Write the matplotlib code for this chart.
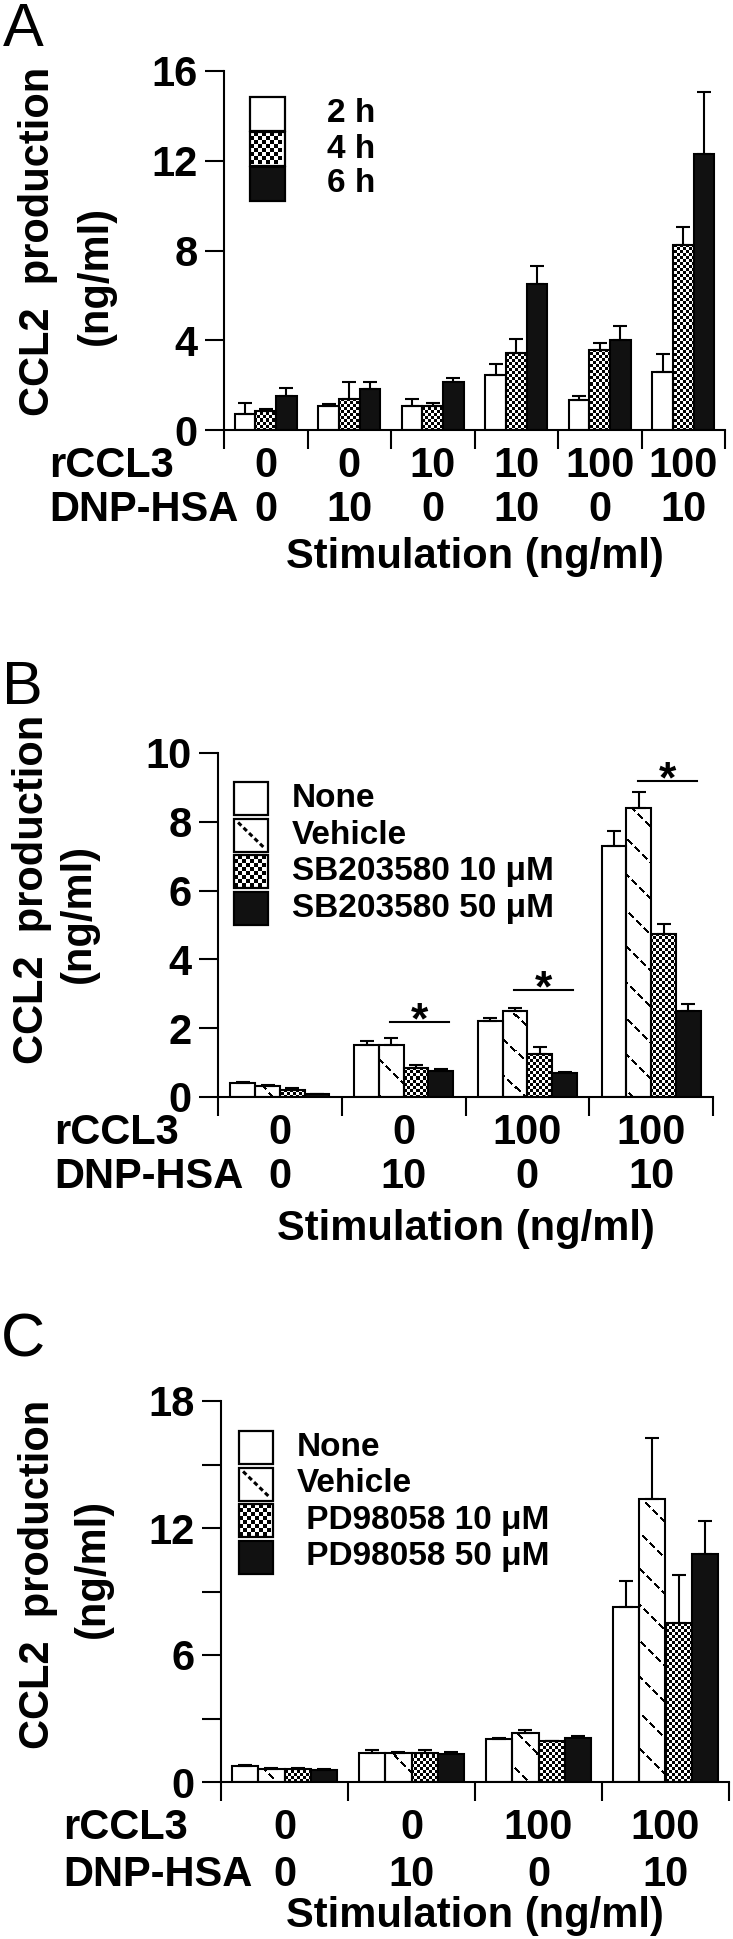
import numpy as np
import matplotlib
matplotlib.use("Agg")
import matplotlib.pyplot as plt
from matplotlib.patches import Rectangle
from matplotlib.lines import Line2D
from matplotlib.transforms import Affine2D

plt.rcParams['font.family'] = ['Liberation Sans', 'DejaVu Sans']

FIG_W, FIG_H = 733, 1939

# ---- data (ng/ml) ----
# panel A: time course
a_rccl3 = ['0', '0', '10', '10', '100', '100']
a_dnp = ['0', '10', '0', '10', '0', '10']
a_labels = ['2 h', '4 h', '6 h']
a_2h = [0.72, 1.05, 1.05, 2.45, 1.35, 2.6]
a_2h_err = [0.5, 0.12, 0.35, 0.48, 0.15, 0.8]
a_4h = [0.85, 1.36, 1.05, 3.43, 3.57, 8.25]
a_4h_err = [0.08, 0.8, 0.15, 0.62, 0.3, 0.8]
a_6h = [1.52, 1.84, 2.15, 6.5, 4.03, 12.3]
a_6h_err = [0.35, 0.3, 0.15, 0.8, 0.62, 2.75]

# panel B: SB203580
b_rccl3 = ['0', '0', '100', '100']
b_dnp = ['0', '10', '0', '10']
b_labels = ['None', 'Vehicle', 'SB203580 10 \u03bcM', 'SB203580 50 \u03bcM']
b_none = [0.4, 1.52, 2.2, 7.3]
b_none_err = [0.03, 0.1, 0.1, 0.42]
b_vehicle = [0.32, 1.5, 2.5, 8.4]
b_vehicle_err = [0.03, 0.22, 0.1, 0.48]
b_sb10 = [0.2, 0.85, 1.25, 4.73]
b_sb10_err = [0.05, 0.08, 0.2, 0.3]
b_sb50 = [0.08, 0.75, 0.7, 2.5]
b_sb50_err = [0.02, 0.07, 0.03, 0.2]
b_sig_groups = [1, 2, 3]
b_sig_y = [2.19, 3.12, 9.2]

# panel C: PD98058
c_rccl3 = ['0', '0', '100', '100']
c_dnp = ['0', '10', '0', '10']
c_labels = ['None', 'Vehicle', ' PD98058 10 \u03bcM', ' PD98058 50 \u03bcM']
c_none = [0.74, 1.39, 2.03, 8.25]
c_none_err = [0.05, 0.12, 0.05, 1.25]
c_vehicle = [0.6, 1.39, 2.32, 13.35]
c_vehicle_err = [0.08, 0.03, 0.15, 2.9]
c_pd10 = [0.6, 1.39, 1.92, 7.5]
c_pd10_err = [0.08, 0.12, 0.03, 2.3]
c_pd50 = [0.58, 1.3, 2.07, 10.75]
c_pd50_err = [0.03, 0.13, 0.1, 1.6]

# pixel coords measured from the top-left corner of the figure
PX = Affine2D().scale(1, -1).translate(0, FIG_H)


def fill_pattern(ax, bars, kind):
    # pixel pattern image clipped to each bar
    pos = ax.get_position()
    w = int(round(pos.width * FIG_W))
    h = int(round(pos.height * FIG_H))
    ii, jj = np.mgrid[0:h, 0:w]
    if kind == 'checker':
        dark = ((ii // 3) + (jj // 3)) % 2 == 0
    else:
        dark = (((ii - jj) % 36) < 3) & (((ii + jj) // 5) % 3 != 2)
    img = np.where(dark, 0.0, 1.0)
    xl, yl = ax.get_xlim(), ax.get_ylim()
    for b in bars:
        im = ax.imshow(img, cmap='gray', vmin=0, vmax=1,
                       extent=(xl[0], xl[1], yl[0], yl[1]), origin='upper',
                       aspect='auto', interpolation='nearest', zorder=1.5)
        im.set_clip_path(b)
    ax.set_xlim(xl)
    ax.set_ylim(yl)


def draw_key(fig, labels, kinds, x, y, pitch, bw, bh, tx):
    # hand made legend, boxes + text, in figure pixels
    for k, (lab, kind) in enumerate(zip(labels, kinds)):
        y0 = y + k * pitch
        face = '#111111' if kind == 'solid' else 'white'
        fig.add_artist(Rectangle((x, y0), bw, bh, facecolor=face,
                                 edgecolor='none', transform=PX))
        if kind == 'checker':
            c = 4
            for i in range(int(bw // c)):
                for j in range(int(bh // c)):
                    if (i + j) % 2:
                        fig.add_artist(Rectangle((x + i * c, y0 + j * c), c, c,
                                                 facecolor='black',
                                                 edgecolor='none', transform=PX))
        elif kind == 'hatch':
            fig.add_artist(Line2D([x + 0.12 * bw, x + 0.88 * bw],
                                  [y0 + 0.12 * bh, y0 + 0.88 * bh],
                                  color='black', lw=2.2, ls=(0, (1.5, 1)),
                                  transform=PX))
        fig.add_artist(Rectangle((x, y0), bw, bh, facecolor='none',
                                 edgecolor='black', lw=1.6, transform=PX))
        fig.text(tx, y0 + bh / 2, lab, transform=PX, ha='left', va='center',
                 fontsize=24, fontweight='bold')


def make_panel(fig, px, letter, series, errs, kinds, width, ymax, yticks,
               yticklabels, rccl3, dnp, rows, ylab, letter_xy, row_x):
    left, right, ytop, ybot = px
    ax = fig.add_axes([left / FIG_W, 1 - ybot / FIG_H,
                       (right - left) / FIG_W, (ybot - ytop) / FIG_H])
    n = len(rccl3)
    ns = len(series)
    x = np.arange(n)
    ax.set_xlim(-0.5, n - 0.5)
    ax.set_ylim(0, ymax)
    for k, (vals, err, kind) in enumerate(zip(series, errs, kinds)):
        xs = x + (k - (ns - 1) / 2) * width
        face = {'open': 'white', 'solid': '#111111'}.get(kind, 'none')
        bars = ax.bar(xs, vals, width, facecolor=face, edgecolor='black',
                      linewidth=1.5, zorder=2)
        if kind in ('checker', 'hatch'):
            fill_pattern(ax, bars.patches, kind)
        ax.errorbar(xs, vals, yerr=[np.zeros(n), err], fmt='none', ecolor='black',
                    elinewidth=1.5, capsize=5, capthick=1.5, zorder=3)

    for s in ['top', 'right']:
        ax.spines[s].set_visible(False)
    for s in ['left', 'bottom']:
        ax.spines[s].set_linewidth(1.5)
    ax.set_yticks(yticks)
    ax.set_yticklabels(yticklabels, fontsize=30, fontweight='bold')
    ax.set_xticks(np.arange(n + 1) - 0.5)
    ax.set_xticklabels([])
    ax.tick_params(axis='y', direction='out', length=14, width=1.5, pad=5)
    ax.tick_params(axis='x', direction='out', length=14, width=1.5)

    # stimulation rows under the axis
    r1, r2, r3 = rows
    for k in range(n):
        ax.annotate(rccl3[k], xy=(x[k], 0), xycoords=('data', 'axes fraction'),
                    xytext=(0, -r1), textcoords='offset pixels', ha='center',
                    va='center', fontsize=30, fontweight='bold')
        ax.annotate(dnp[k], xy=(x[k], 0), xycoords=('data', 'axes fraction'),
                    xytext=(0, -r2), textcoords='offset pixels', ha='center',
                    va='center', fontsize=30, fontweight='bold')
    fig.text(row_x, ybot + r1, 'rCCL3', transform=PX, ha='left', va='center',
             fontsize=30, fontweight='bold')
    fig.text(row_x, ybot + r2, 'DNP-HSA', transform=PX, ha='left', va='center',
             fontsize=30, fontweight='bold')
    ax.annotate('Stimulation (ng/ml)', xy=(0.5, 0), xycoords='axes fraction',
                xytext=(0, -r3), textcoords='offset pixels', ha='center',
                va='center', fontsize=30, fontweight='bold')

    # y label (two lines)
    fig.text(ylab[0], ylab[1], 'CCL2  production', transform=PX, rotation=90,
             ha='center', va='center', fontsize=30, fontweight='bold')
    fig.text(ylab[2], ylab[3], '(ng/ml)', transform=PX, rotation=90,
             ha='center', va='center', fontsize=30, fontweight='bold')
    fig.text(letter_xy[0], letter_xy[1], letter, transform=PX,
             ha='center', va='center', fontsize=44)
    return ax


fig = plt.figure(figsize=(FIG_W / 100, FIG_H / 100), dpi=100)

a_kinds = ['open', 'checker', 'solid']
make_panel(fig, (224, 725, 71, 430), 'A',
           [a_2h, a_4h, a_6h], [a_2h_err, a_4h_err, a_6h_err],
           a_kinds, 0.247, 16,
           [0, 4, 8, 12, 16], ['0', '4', '8', '12', '16'],
           a_rccl3, a_dnp, (36, 80, 127), (38, 241, 96, 275), (23, 30), 49)
draw_key(fig, a_labels, a_kinds, 250, 97, 35, 35, 34, 327)

bc_kinds = ['open', 'hatch', 'checker', 'solid']
axb = make_panel(fig, (218, 713, 753, 1097), 'B',
                 [b_none, b_vehicle, b_sb10, b_sb50],
                 [b_none_err, b_vehicle_err, b_sb10_err, b_sb50_err],
                 bc_kinds, 0.2, 10,
                 [0, 2, 4, 6, 8, 10], ['0', '2', '4', '6', '8', '10'],
                 b_rccl3, b_dnp, (36, 80, 132), (32, 889, 79, 913), (22, 688), 54)
draw_key(fig, b_labels, bc_kinds, 234, 782, 36.5, 34, 33, 292)
# significance bars: vehicle .. 50 uM
for g, yv in zip(b_sig_groups, b_sig_y):
    axb.plot([g - 0.11, g + 0.37], [yv, yv], color='black', lw=1.5, zorder=4)
    axb.annotate('*', xy=(g + 0.13, yv), xytext=(0, -12),
                 textcoords='offset pixels', ha='center', va='baseline',
                 fontsize=32, fontweight='bold')

make_panel(fig, (221, 729, 1401, 1782), 'C',
           [c_none, c_vehicle, c_pd10, c_pd50],
           [c_none_err, c_vehicle_err, c_pd10_err, c_pd50_err],
           bc_kinds, 0.205, 18,
           [0, 3, 6, 9, 12, 15, 18], ['0', '', '6', '', '12', '', '18'],
           c_rccl3, c_dnp, (46, 93, 134), (38, 1574, 93, 1568), (23, 1341), 63)
draw_key(fig, c_labels, bc_kinds, 239, 1431, 36.5, 34, 33, 297)

fig.savefig('out.png', dpi=100)
